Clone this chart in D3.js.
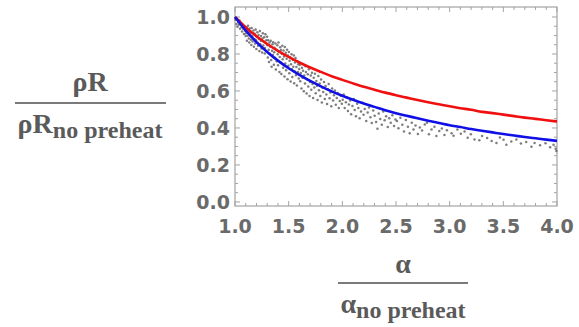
<!DOCTYPE html>
<html>
<head>
<meta charset="utf-8">
<script src="https://cdn.jsdelivr.net/npm/d3@7"></script>
<style>
  html, body { margin: 0; padding: 0; background: #fff; }
  svg { display: block; }
</style>
</head>
<body>
<svg id="chart" width="579" height="327"></svg>
<script>
// Ratio of areal density ρR versus ratio of adiabat α (both normalised to the no‑preheat case)
const alphaGrid = [1.0, 1.1, 1.2, 1.3, 1.4, 1.5, 1.6, 1.7, 1.8, 1.9, 2.0, 2.1, 2.2, 2.3, 2.4, 2.5,
                   2.6, 2.7, 2.8, 2.9, 3.0, 3.1, 3.2, 3.3, 3.4, 3.5, 3.6, 3.7, 3.8, 3.9, 4.0];
const redCurve = [1.000, 0.944, 0.896, 0.854, 0.817, 0.784, 0.754, 0.727, 0.703, 0.680, 0.660, 0.641,
                  0.623, 0.607, 0.591, 0.577, 0.564, 0.551, 0.539, 0.528, 0.517, 0.507, 0.498, 0.487,
                  0.480, 0.472, 0.464, 0.456, 0.449, 0.442, 0.435];
const blueCurve = [1.000, 0.927, 0.864, 0.811, 0.764, 0.723, 0.687, 0.654, 0.625, 0.598, 0.574, 0.552,
                   0.532, 0.514, 0.496, 0.480, 0.466, 0.452, 0.439, 0.427, 0.415, 0.405, 0.394, 0.385,
                   0.376, 0.367, 0.359, 0.351, 0.344, 0.337, 0.330];

// Simulation points [α/α0, ρR/ρR0]
const simPoints = [
  [1.005,0.985],[1.013,0.962],[1.018,0.991],[1.024,0.947],[1.031,0.972],[1.036,0.958],[1.042,0.981],
  [1.047,0.936],[1.055,0.962],[1.061,0.944],[1.066,0.921],[1.072,0.957],[1.078,0.935],[1.083,0.908],
  [1.088,0.948],[1.094,0.926],[1.099,0.897],
  [1.102,0.912],[1.106,0.944],[1.111,0.871],[1.114,0.928],[1.118,0.899],[1.121,0.953],[1.127,0.917],
  [1.129,0.884],[1.133,0.862],[1.136,0.938],[1.141,0.906],[1.144,0.921],[1.149,0.877],[1.152,0.849],
  [1.155,0.941],[1.161,0.896],[1.164,0.868],[1.168,0.913],[1.172,0.927],[1.176,0.839],[1.181,0.881],
  [1.184,0.909],[1.187,0.856],[1.192,0.932],[1.196,0.874],[1.199,0.827],[1.204,0.892],[1.208,0.918],
  [1.211,0.861],[1.215,0.844],[1.219,0.903],[1.224,0.881],[1.227,0.816],[1.232,0.924],[1.236,0.853],
  [1.241,0.871],[1.243,0.897],[1.247,0.829],[1.252,0.808],[1.256,0.884],[1.259,0.912],[1.263,0.846],
  [1.268,0.867],[1.272,0.891],[1.277,0.802],[1.279,0.832],[1.283,0.906],[1.288,0.858],[1.292,0.874],
  [1.296,0.814],[1.299,0.893],
  [1.302,0.847],[1.306,0.781],[1.309,0.874],[1.314,0.823],[1.317,0.756],[1.322,0.862],[1.326,0.801],
  [1.329,0.839],[1.333,0.872],[1.337,0.768],[1.341,0.731],[1.345,0.818],[1.349,0.852],[1.353,0.794],
  [1.356,0.864],[1.362,0.742],[1.365,0.809],[1.368,0.834],[1.373,0.779],[1.377,0.857],[1.381,0.716],
  [1.386,0.823],[1.389,0.761],[1.394,0.847],[1.398,0.798],[1.401,0.739],[1.405,0.862],[1.409,0.812],
  [1.414,0.703],[1.417,0.784],[1.421,0.836],[1.426,0.752],[1.428,0.821],[1.432,0.692],[1.437,0.801],
  [1.441,0.845],[1.444,0.771],[1.449,0.726],[1.452,0.819],[1.457,0.787],[1.461,0.678],[1.464,0.838],
  [1.468,0.749],[1.473,0.806],[1.476,0.712],[1.481,0.774],[1.485,0.823],[1.489,0.664],[1.493,0.792],
  [1.497,0.737],[1.502,0.811],[1.506,0.696],[1.509,0.763],[1.514,0.781],[1.518,0.651],[1.522,0.744],
  [1.527,0.799],[1.531,0.718],[1.534,0.676],[1.539,0.768],[1.543,0.731],[1.548,0.792],[1.551,0.642],
  [1.556,0.707],[1.559,0.754],[1.564,0.778],[1.568,0.685],[1.572,0.729],[1.577,0.629],[1.581,0.761],
  [1.585,0.702],[1.589,0.744],[1.594,0.668],[1.598,0.719],
  [1.603,0.741],[1.608,0.652],[1.613,0.697],[1.619,0.613],[1.624,0.726],[1.629,0.671],[1.634,0.709],
  [1.641,0.598],[1.645,0.684],[1.652,0.641],[1.657,0.733],[1.661,0.703],[1.667,0.586],[1.672,0.662],
  [1.678,0.691],[1.683,0.624],[1.688,0.717],[1.694,0.573],[1.699,0.648],[1.706,0.684],[1.711,0.607],
  [1.717,0.699],[1.722,0.638],[1.728,0.562],[1.733,0.671],[1.739,0.619],[1.745,0.693],[1.752,0.587],
  [1.758,0.654],[1.763,0.628],[1.769,0.551],[1.776,0.681],[1.782,0.604],[1.789,0.641],[1.795,0.573],
  [1.802,0.662],[1.809,0.538],[1.815,0.617],[1.822,0.594],[1.829,0.648],[1.836,0.556],[1.844,0.627],
  [1.851,0.581],[1.858,0.529],[1.866,0.609],[1.873,0.638],[1.881,0.561],[1.889,0.592],[1.897,0.517],
  [1.905,0.614],[1.914,0.548],[1.922,0.577],[1.931,0.603],[1.939,0.526],[1.948,0.562],[1.957,0.589],
  [1.967,0.508],[1.976,0.546],[1.986,0.574],[1.995,0.531],
  [2.004,0.552],[2.013,0.581],[2.022,0.508],[2.033,0.539],[2.041,0.566],[2.052,0.491],[2.061,0.527],
  [2.073,0.548],[2.082,0.474],[2.094,0.519],[2.106,0.556],[2.115,0.497],[2.127,0.463],[2.138,0.531],
  [2.149,0.508],[2.161,0.452],[2.174,0.489],[2.186,0.536],[2.198,0.471],[2.209,0.502],[2.223,0.438],
  [2.236,0.483],[2.249,0.511],[2.262,0.458],[2.274,0.427],[2.288,0.494],[2.301,0.466],[2.315,0.432],
  [2.327,0.396],[2.339,0.478],[2.353,0.448],[2.368,0.417],[2.381,0.489],[2.394,0.441],[2.408,0.463],
  [2.423,0.405],[2.437,0.452],[2.451,0.428],[2.466,0.469],[2.482,0.411],[2.495,0.446],
  [2.508,0.437],[2.523,0.398],[2.541,0.455],[2.559,0.417],[2.574,0.381],[2.592,0.443],[2.611,0.406],
  [2.628,0.372],[2.647,0.428],[2.663,0.391],[2.682,0.413],[2.704,0.367],[2.722,0.402],[2.743,0.386],
  [2.768,0.419],[2.789,0.428],[2.807,0.366],[2.831,0.392],[2.858,0.406],[2.876,0.357],[2.903,0.384],
  [2.927,0.397],[2.951,0.362],[2.974,0.388],
  [3.018,0.371],[3.036,0.358],[3.072,0.392],[3.104,0.368],[3.139,0.381],[3.168,0.347],[3.197,0.366],
  [3.231,0.338],[3.276,0.333],[3.302,0.357],[3.349,0.346],[3.391,0.329],[3.436,0.318],[3.468,0.348],
  [3.502,0.336],[3.528,0.309],[3.574,0.327],[3.621,0.338],[3.664,0.316],[3.713,0.324],[3.762,0.298],
  [3.791,0.318],[3.842,0.307],[3.893,0.317],[3.936,0.296],[3.968,0.309],[3.988,0.287],[3.994,0.276]
];

const xMajor = [1.0, 1.5, 2.0, 2.5, 3.0, 3.5, 4.0];
const yMajor = [0.0, 0.2, 0.4, 0.6, 0.8, 1.0];

const svg = d3.select("#chart");
const plot = { left: 235, right: 557, top: 7, bottom: 206 };

const x = d3.scaleLinear().domain([1, 4]).range([plot.left, plot.right]);
const y = d3.scaleLinear().domain([-0.022, 1.054]).range([plot.bottom, plot.top]);

const frameColor = "#a3a3a3";
const tickFont = "'DejaVu Sans', sans-serif";
const tickColor = "#6a6a6a";

// minor tick positions
const xMinor = d3.range(10, 41).map(v => v / 10).filter(v => !xMajor.some(m => Math.abs(m - v) < 1e-9));
const yMinor = d3.range(0, 21).map(v => v / 20).filter(v => !yMajor.some(m => Math.abs(m - v) < 1e-9));

const g = svg.append("g");

// frame
g.append("rect")
  .attr("x", plot.left).attr("y", plot.top)
  .attr("width", plot.right - plot.left).attr("height", plot.bottom - plot.top)
  .attr("fill", "none").attr("stroke", frameColor).attr("stroke-width", 1.2);

// frame ticks on all four sides (pointing inward)
function xTicks(vals, len) {
  vals.forEach(v => {
    const px = x(v);
    g.append("line").attr("x1", px).attr("x2", px).attr("y1", plot.bottom).attr("y2", plot.bottom - len)
      .attr("stroke", frameColor).attr("stroke-width", 1);
    g.append("line").attr("x1", px).attr("x2", px).attr("y1", plot.top).attr("y2", plot.top + len)
      .attr("stroke", frameColor).attr("stroke-width", 1);
  });
}
function yTicks(vals, len) {
  vals.forEach(v => {
    const py = y(v);
    g.append("line").attr("x1", plot.left).attr("x2", plot.left + len).attr("y1", py).attr("y2", py)
      .attr("stroke", frameColor).attr("stroke-width", 1);
    g.append("line").attr("x1", plot.right).attr("x2", plot.right - len).attr("y1", py).attr("y2", py)
      .attr("stroke", frameColor).attr("stroke-width", 1);
  });
}
xTicks(xMajor, 5); xTicks(xMinor, 3);
yTicks(yMajor, 5); yTicks(yMinor, 3);

// tick labels
g.selectAll("text.xl").data(xMajor).enter().append("text")
  .attr("x", d => x(d)).attr("y", 233)
  .attr("text-anchor", "middle")
  .style("font-family", tickFont).style("font-weight", "bold").style("font-size", "19px")
  .attr("fill", tickColor)
  .text(d => d.toFixed(1));

g.selectAll("text.yl").data(yMajor).enter().append("text")
  .attr("x", plot.left - 5).attr("y", d => y(d) + 7)
  .attr("text-anchor", "end")
  .style("font-family", tickFont).style("font-weight", "bold").style("font-size", "19px")
  .attr("fill", tickColor)
  .text(d => d.toFixed(1));

// simulation scatter
const plotArea = svg.append("g");
plotArea.selectAll("circle").data(simPoints).enter().append("circle")
  .attr("cx", d => x(d[0])).attr("cy", d => y(d[1]))
  .attr("r", 1.25).attr("fill", "#666").attr("opacity", 0.85);

// model curves
const line = d3.line().x((d, i) => x(alphaGrid[i])).y(d => y(d)).curve(d3.curveMonotoneX);
plotArea.append("path").datum(redCurve).attr("d", line)
  .attr("fill", "none").attr("stroke", "#f01010").attr("stroke-width", 2.6);
plotArea.append("path").datum(blueCurve).attr("d", line)
  .attr("fill", "none").attr("stroke", "#1010e6").attr("stroke-width", 2.6);

// axis labels as fractions
const labelFont = "'Liberation Serif', 'Times New Roman', serif";
const labelColor = "#5a5a5a";

function fraction(cx, numY, lineY, denY, x1, x2, sym) {
  svg.append("text").attr("x", cx).attr("y", numY).attr("text-anchor", "middle")
    .style("font-family", labelFont).style("font-weight", "bold").style("font-size", "28px")
    .attr("fill", labelColor).text(sym);
  svg.append("line").attr("x1", x1).attr("x2", x2).attr("y1", lineY).attr("y2", lineY)
    .attr("stroke", "#7a7a7a").attr("stroke-width", 2);
  const den = svg.append("text").attr("x", cx).attr("y", denY).attr("text-anchor", "middle")
    .style("font-family", labelFont).style("font-weight", "bold").style("font-size", "28px")
    .attr("fill", labelColor);
  den.append("tspan").text(sym);
  den.append("tspan").attr("dy", 5).style("font-size", "24px").text("no preheat");
}
fraction(90, 91, 103, 133, 15, 166, "ρR");
fraction(403, 273, 283, 313, 338, 468, "α");
</script>
</body>
</html>
